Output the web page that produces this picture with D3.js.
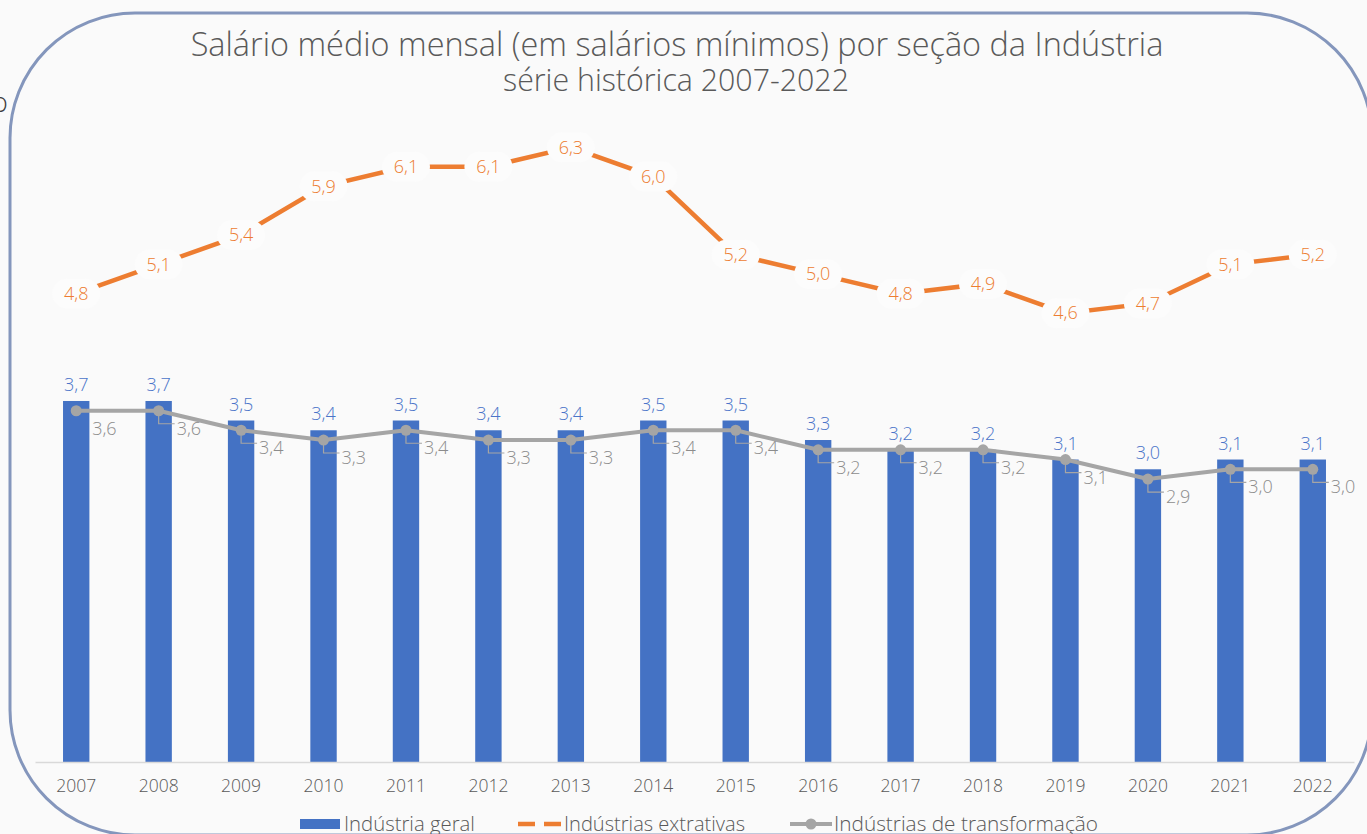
<!DOCTYPE html>
<html>
<head>
<meta charset="utf-8">
<script src="https://cdn.jsdelivr.net/npm/d3@7"></script>
<style>
  html, body { margin: 0; padding: 0; background: #fafafa; }
  svg { display: block; font-family: "Century Gothic", "Open Sans", sans-serif; font-weight: 300; }
</style>
</head>
<body>
<svg id="chart" width="1367" height="834"></svg>
<script>
// ================================
// DADES
// ================================
const years = ["2007", "2008", "2009", "2010", "2011", "2012", "2013", "2014",
               "2015", "2016", "2017", "2018", "2019", "2020", "2021", "2022"];
const industriaGeral = [3.7, 3.7, 3.5, 3.4, 3.5, 3.4, 3.4, 3.5, 3.5, 3.3, 3.2, 3.2, 3.1, 3.0, 3.1, 3.1];
const extrativas     = [4.8, 5.1, 5.4, 5.9, 6.1, 6.1, 6.3, 6.0, 5.2, 5.0, 4.8, 4.9, 4.6, 4.7, 5.1, 5.2];
const transformacao  = [3.6, 3.6, 3.4, 3.3, 3.4, 3.3, 3.3, 3.4, 3.4, 3.2, 3.2, 3.2, 3.1, 2.9, 3.0, 3.0];
const seriesNames = ["Indústria geral", "Indústrias extrativas", "Indústrias de transformação"];
const titleLines = ["Salário médio mensal (em salários mínimos) por seção da Indústria",
                    "série histórica 2007-2022"];

const BLUE = "#4472c4", ORANGE = "#ed7d31", GRAY = "#a5a5a5", BG = "#fafafa";
const fmt = v => v.toFixed(1).replace(".", ",");

const svg = d3.select("#chart");

// ajusta un text a una amplada (la font original no hi és)
function fitWidth(sel, target) {
  const w = sel.node().getComputedTextLength();
  const fs = parseFloat(sel.style("font-size"));
  sel.style("font-size", (fs * target / w).toFixed(2) + "px");
}

// ================================
// MOLDURA
// ================================
svg.append("rect")
  .attr("x", 10).attr("y", 13)
  .attr("width", 1362).attr("height", 822)
  .attr("rx", 125).attr("ry", 125)
  .attr("fill", BG)
  .attr("stroke", "#8496bc")
  .attr("stroke-width", 3);

// resto d'un objecte veí, tallat
svg.append("text")
  .attr("x", -8).attr("y", 112)
  .text("o")
  .style("font-size", "27px")
  .style("fill", "#404040");

// ================================
// TÍTOL
// ================================
const t1 = svg.append("text")
  .attr("x", 677).attr("y", 56)
  .attr("text-anchor", "middle")
  .text(titleLines[0])
  .style("font-size", "26px").style("fill", "#595959");
fitWidth(t1, 973);

const t2 = svg.append("text")
  .attr("x", 676).attr("y", 91)
  .attr("text-anchor", "middle")
  .text(titleLines[1])
  .style("font-size", "26px").style("fill", "#595959");
fitWidth(t2, 346);

// ================================
// ESCALES
// ================================
const x = d3.scaleBand()
  .domain(years)
  .range([35, 1354])
  .paddingInner(0.68)
  .paddingOuter(0.34);

const y = d3.scaleLinear()
  .domain([0, 7])
  .range([762, 79]);

const cx = d => x(d) + x.bandwidth() / 2;

// ================================
// BARRES
// ================================
svg.append("g")
  .selectAll("rect")
  .data(years)
  .join("rect")
  .attr("x", d => x(d))
  .attr("y", (d, i) => y(industriaGeral[i]))
  .attr("width", x.bandwidth())
  .attr("height", (d, i) => y(0) - y(industriaGeral[i]))
  .attr("fill", BLUE);

svg.append("g")
  .selectAll("text")
  .data(years)
  .join("text")
  .attr("x", d => cx(d))
  .attr("y", (d, i) => y(industriaGeral[i]) - 10)
  .attr("text-anchor", "middle")
  .text((d, i) => fmt(industriaGeral[i]))
  .style("font-size", "18px")
  .style("fill", "#4a74c9");

// eix X
const xAxis = svg.append("g")
  .attr("transform", `translate(0, ${y(0)})`)
  .call(d3.axisBottom(x).tickSize(0).tickPadding(18));
xAxis.select(".domain").attr("stroke", "#d9d9d9").attr("stroke-width", 1.5);
xAxis.selectAll("text")
  .style("font-family", "\"Century Gothic\", \"Open Sans\", sans-serif")
  .style("font-weight", 300)
  .style("font-size", "17.5px")
  .style("fill", "#595959");

// ================================
// LÍNIA TRANSFORMAÇÃO
// ================================
const lineGen = d3.line()
  .x(d => cx(d.year))
  .y(d => y(d.value));

const transData = years.map((yr, i) => ({ year: yr, value: transformacao[i] }));

svg.append("path")
  .datum(transData)
  .attr("d", lineGen)
  .attr("fill", "none")
  .attr("stroke", GRAY)
  .attr("stroke-width", 4)
  .attr("stroke-linejoin", "round");

svg.append("g")
  .selectAll("circle")
  .data(transData)
  .join("circle")
  .attr("cx", d => cx(d.year))
  .attr("cy", d => y(d.value))
  .attr("r", 5.5)
  .attr("fill", GRAY);

// línies guia
svg.append("g")
  .selectAll("path")
  .data(transData.slice(1))
  .join("path")
  .attr("d", d => {
    const px = cx(d.year), py = y(d.value);
    return `M${px},${py + 5}V${py + 13}H${px + 16}`;
  })
  .attr("fill", "none")
  .attr("stroke", GRAY)
  .attr("stroke-width", 1.2);

svg.append("g")
  .selectAll("text")
  .data(transData)
  .join("text")
  .attr("x", (d, i) => cx(d.year) + (i === 0 ? 16 : 18))
  .attr("y", d => y(d.value) + 24)
  .text(d => fmt(d.value))
  .style("font-size", "18px")
  .style("fill", "#8c8c8c");

// ================================
// LÍNIA EXTRATIVES
// ================================
const extData = years.map((yr, i) => ({ year: yr, value: extrativas[i] }));

svg.append("path")
  .datum(extData)
  .attr("d", lineGen)
  .attr("fill", "none")
  .attr("stroke", ORANGE)
  .attr("stroke-width", 4.5);

const extLabels = svg.append("g")
  .selectAll("g")
  .data(extData)
  .join("g")
  .attr("transform", d => `translate(${cx(d.year)}, ${y(d.value)})`);

extLabels.append("rect")
  .attr("x", -24).attr("y", -15)
  .attr("width", 48).attr("height", 30)
  .attr("rx", 15)
  .attr("fill", "#fcfcfc");

extLabels.append("text")
  .attr("text-anchor", "middle")
  .attr("dy", "0.35em")
  .text(d => fmt(d.value))
  .style("font-size", "18px")
  .style("fill", ORANGE);

// ================================
// LLEGENDA
// ================================
const legend = svg.append("g").attr("transform", "translate(0, 824)");

legend.append("rect")
  .attr("x", 300).attr("y", -5)
  .attr("width", 40).attr("height", 10)
  .attr("fill", BLUE);

legend.append("line")
  .attr("x1", 518).attr("x2", 562)
  .attr("stroke", ORANGE)
  .attr("stroke-width", 4.5)
  .attr("stroke-dasharray", "17,9");

legend.append("line")
  .attr("x1", 790).attr("x2", 832)
  .attr("stroke", GRAY)
  .attr("stroke-width", 4);
legend.append("circle")
  .attr("cx", 811).attr("r", 5.5)
  .attr("fill", GRAY);

const legendPos = [[344, 131], [564, 181], [834, 264]];
seriesNames.forEach((name, i) => {
  const t = legend.append("text")
    .attr("x", legendPos[i][0])
    .attr("y", 7)
    .text(name)
    .style("font-size", "18px")
    .style("fill", "#595959");
  fitWidth(t, legendPos[i][1]);
});
</script>
</body>
</html>
